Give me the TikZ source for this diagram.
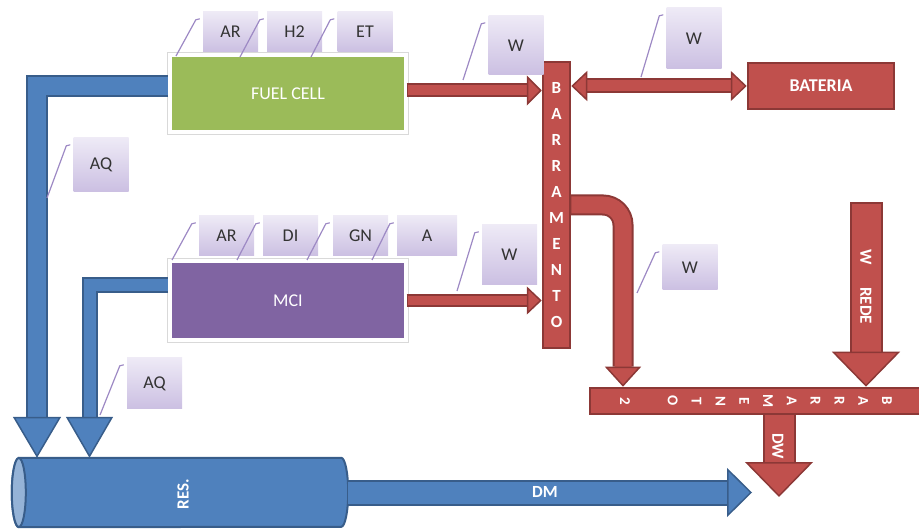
\documentclass[tikz,border=0pt]{standalone}
\usepackage{fontspec}
\setmainfont{Carlito}
\usetikzlibrary{arrows.meta,positioning,calc}

\definecolor{fcgreen}{HTML}{9BBB59}
\definecolor{mcipurple}{HTML}{8064A2}
\definecolor{busred}{HTML}{C0504D}
\definecolor{busdark}{HTML}{8C3836}
\definecolor{tankblue}{HTML}{4F81BD}
\definecolor{tankdark}{HTML}{385D8A}
\definecolor{tankend}{HTML}{95B3D7}
\definecolor{lavtop}{HTML}{EEEAF6}
\definecolor{lavbot}{HTML}{CBBFE2}
\definecolor{callpurple}{HTML}{9D89C4}

\tikzset{
  unit/.style={text=white,font=\fontsize{18}{21}\selectfont,minimum width=236pt,minimum height=77pt,
    inner sep=0pt,draw=white,line width=4pt,preaction={draw=black!15,line width=6pt}},
  tag/.style={text=black!80,font=\fontsize{18}{21}\selectfont,minimum width=55pt,minimum height=40pt,
    inner sep=0pt,top color=lavtop,bottom color=lavbot},
  redbox/.style={fill=busred,draw=busdark,line width=2.5pt,inner sep=0pt,text=white,
    font=\fontsize{18}{21}\selectfont\bfseries},
  letter/.style={text=white,font=\fontsize{17}{20}\selectfont\bfseries,inner sep=0pt},
  flowtext/.style={text=white,font=\fontsize{17}{20}\selectfont\bfseries,inner sep=0pt},
  tankbody/.style={fill=tankblue,draw=tankdark,line width=2pt},
  callline/.style={draw=callpurple,line width=1.2pt},
  % #1 inner width, #2 outer width, #3 head width, #4 head length
  redflow/.style n args={4}{draw=busred,line width=#1,
    -{Triangle[length=#4,width=#3,fill=busred,color=busdark,line width=1.5pt]},
    preaction={draw=busdark,line width=#2,arrows=-,shorten >=#4,shorten <=-1.5pt}},
  blueflow/.style n args={4}{draw=tankblue,line width=#1,
    -{Triangle[length=#4,width=#3,fill=tankblue,color=tankdark,line width=1.5pt]},
    preaction={draw=tankdark,line width=#2,arrows=-,shorten >=#4}},
  redboth/.style={draw=busred,line width=11pt,
    {Triangle[length=16pt,width=30pt,fill=busred,color=busdark,line width=1.5pt]}-{Triangle[length=16pt,width=30pt,fill=busred,color=busdark,line width=1.5pt]},
    preaction={draw=busdark,line width=15pt,arrows=-,shorten >=16pt,shorten <=16pt}}
}

\begin{document}
\begin{tikzpicture}[x=1pt,y=-1pt]
\useasboundingbox (0,0) rectangle (919,529);

% main blocks
\node[unit,fill=fcgreen] (fc) at (288,93.5) {FUEL CELL};
\node[unit,fill=mcipurple,minimum height=79pt] (mci) at (288,300.5) {MCI};
\node[redbox,minimum width=27pt,minimum height=286pt] (bus) at (556.5,205) {};
\node[redbox,minimum width=146pt,minimum height=46pt] (bat) at (821,86) {BATERIA};
\node[redbox,minimum width=340pt,minimum height=26pt] (bus2) at (760,401) {};

% reservoir
\node[minimum width=336pt,minimum height=69pt,inner sep=0pt] (tank) at (180,492.5) {};
\draw[tankbody] ([xshift=7pt]tank.north west) -- ([xshift=-7pt]tank.north east)
  arc[start angle=90,end angle=-90,x radius=7pt,y radius=34.5pt]
  -- ([xshift=7pt]tank.south west)
  arc[start angle=270,end angle=90,x radius=7pt,y radius=34.5pt] -- cycle;
\draw[tankbody,fill=tankend] ([xshift=7pt]tank.west) ellipse [x radius=7pt,y radius=34.5pt];

% power flows
\coordinate (fcout) at ([yshift=3pt]fc.east);
\draw[redflow={10pt}{14pt}{30pt}{15pt}] (fcout) -- (fcout -| bus.west);
\draw[redboth] (bus.east |- bat.west) -- (bat.west);
\draw[redflow={9pt}{13pt}{28pt}{15pt}] (mci.east) -- (mci.east -| bus.west);
\coordinate (drop) at (623,0);
\draw[redflow={17pt}{21pt}{36pt}{20pt},rounded corners=20pt] (bus.east) -| (drop |- bus2.north);
\coordinate (grid) at (866,204);
\draw[redflow={29pt}{33pt}{68pt}{35pt}] (grid) -- (grid |- bus2.north);
\coordinate (dwend) at (779,497);
\draw[redflow={29pt}{33pt}{68pt}{35pt}] (dwend |- bus2.south) -- (dwend);

% heat flows
\coordinate (fcin) at ([yshift=7.5pt]fc.west);
\coordinate (fcdrop) at (37,0);
\draw[blueflow={18pt}{22pt}{48pt}{41pt}] (fcin) -| (fcdrop |- tank.north);
\coordinate (mciin) at ([yshift=15pt]mci.west);
\coordinate (mcidrop) at (89.5,0);
\draw[blueflow={12pt}{16pt}{47pt}{41pt}] (mciin) -| (mcidrop |- tank.north);
\coordinate (dmend) at (752,0);
\draw[blueflow={22pt}{26pt}{49pt}{25pt}] (tank.east) -- (tank.east -| dmend);

% letters
\foreach \l [count=\i] in {B,A,R,R,A,M,E,N,T,O}
  \node[letter] (bl\i) at (556.5,62+26*\i) {\l};
\foreach \l [count=\i] in {B,A,R,R,A,M,E,N,T,O}
  \node[letter,rotate=-90,font=\fontsize{15}{18}\selectfont\bfseries] (cl\i) at (910.8-23.8*\i,401) {\l};
\node[letter,rotate=-90,font=\fontsize{15}{18}\selectfont\bfseries] (cl2) at (625,401) {2};
\node[flowtext,rotate=-90] (rede) at (866,287) {W\hspace{22pt}REDE};
\node[flowtext,rotate=-90] (dw) at (778,446) {DW};
\node[flowtext,rotate=90] (res) at (183,494) {RES.};
\node[flowtext] (dm) at (545,492) {DM};

% tags
\node[tag] (ar1) at (230.5,32) {AR};
\node[tag] (h2) at (294.5,32) {H2};
\node[tag] (et) at (365,32) {ET};
\node[tag] (ar2) at (226.5,236) {AR};
\node[tag] (di) at (290.5,236) {DI};
\node[tag] (gn) at (360.5,236) {GN};
\node[tag,minimum width=60pt] (a) at (427,236) {A};
\node[tag,minimum height=54pt] (aqfc) at (101,165) {AQ};
\node[tag,minimum height=51pt] (aqmci) at (154.5,383.5) {AQ};
\node[tag,minimum height=59pt] (wfc) at (516,45.5) {W};
\node[tag,minimum height=61pt] (wbat) at (694,38.5) {W};
\node[tag,minimum height=60pt] (wmci) at (509.5,255) {W};
\node[tag,minimum height=45pt] (wbus) at (690,267.5) {W};

\foreach \b/\px/\py in {ar1/176/56,h2/240/57,et/311/57,ar2/172/260,di/237/260,gn/307/260,a/372/260,
    aqfc/47/198,aqmci/100/415,wfc/463/80,wbat/641/77,wmci/457/291,wbus/637/293}{
  \coordinate (p\b) at (\px,\py);
  \draw[callline] (p\b) -- ($(\b.north west)+(-7,8)$) -- ($(\b.north west)+(-3,7)$);
}
\end{tikzpicture}
\end{document}
